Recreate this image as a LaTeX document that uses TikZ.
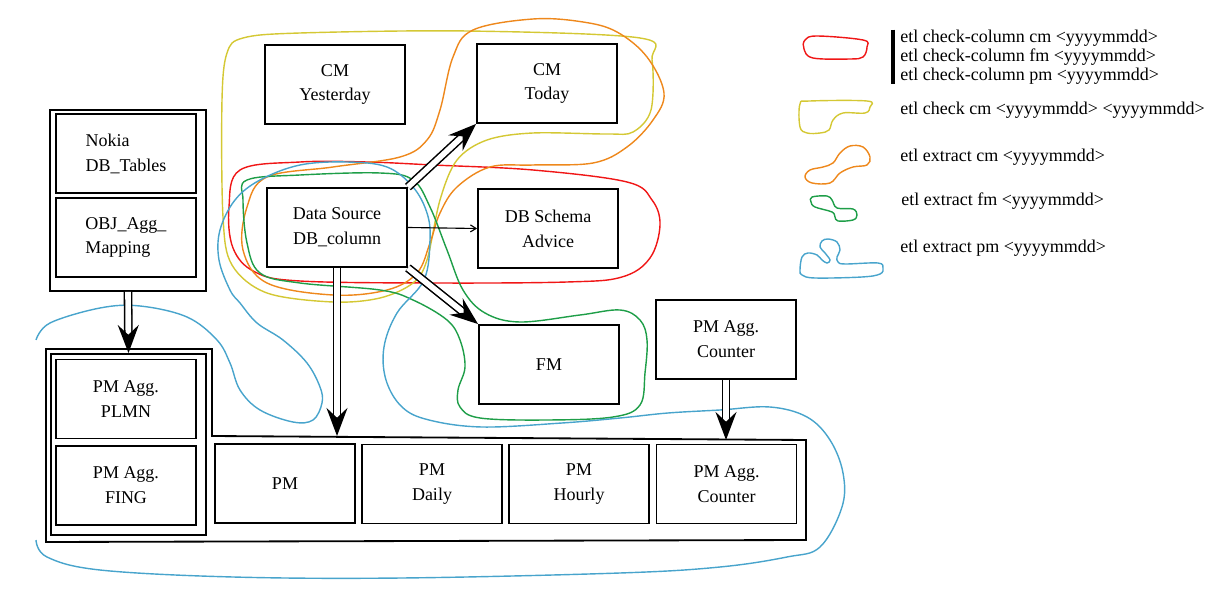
\documentclass[tikz,border=0pt]{standalone}
\usepackage{fontspec}
\setmainfont{Liberation Serif}
\usetikzlibrary{arrows.meta}
\definecolor{cred}{RGB}{240,22,22}
\definecolor{cyellow}{RGB}{212,200,52}
\definecolor{corange}{RGB}{238,136,28}
\definecolor{cgreen}{RGB}{30,158,72}
\definecolor{cblue}{RGB}{72,164,204}
\begin{document}
\begin{tikzpicture}[x=0.025cm, y=-0.025cm,
    box/.style={draw, line width=1.3pt, minimum width=3.5cm, minimum height=1.975cm,
                align=center, inner sep=0pt, font=\fontsize{12.8}{17.7}\selectfont},
    frame/.style={draw, line width=1.3pt, minimum width=3.9cm, minimum height=4.525cm, inner sep=0pt},
    dbl/.style={double, double distance=4pt, line width=1.1pt,
                -{Stealth[length=20pt,width=15pt,inset=7pt]}},
    blob/.style={line width=1pt},
    legend/.style={anchor=west, inner sep=0pt, align=left, font=\fontsize{12.8}{13.5}\selectfont}]

    \useasboundingbox (0,0) rectangle (1210,596);

    % groups
    \draw[blob, cred] plot[smooth cycle, tension=0.6] coordinates {
        (240,170) (300,162) (367,162) (433,165) (533,170) (627,182) (652,200) (660,225)
        (650,258) (622,277) (567,282) (433,283) (300,281) (255,272) (233,248) (229,207)};
    \draw[blob, cyellow] plot[smooth cycle, tension=0.55] coordinates {
        (243,38) (300,33) (467,31) (640,38) (652,60) (651,110) (633,132) (607,134)
        (533,133) (487,140) (457,160) (440,200) (427,260) (413,283) (380,298) (333,302)
        (267,293) (232,265) (223,217) (222,100) (227,53)};
    \draw[blob, corange] plot[smooth cycle, tension=0.6] coordinates {
        (533,19) (473,30) (453,57) (440,110) (427,140) (400,157) (333,167) (267,177)
        (247,207) (243,250) (267,283) (333,295) (387,290) (417,273) (430,243) (440,213)
        (457,187) (490,167) (533,165) (593,163) (627,147) (653,120) (664,93) (647,57)
        (617,32) (583,22)};
    \draw[blob, cgreen] plot[smooth cycle, tension=0.6] coordinates {
        (247,180) (300,175) (380,173) (413,180) (430,207) (447,250) (463,290) (485,313)
        (520,322) (580,315) (620,310) (640,320) (647,340) (645,373) (640,405) (613,417)
        (547,420) (480,418) (460,407) (458,390) (465,367) (460,340) (447,320) (413,300)
        (380,290) (300,283) (260,273) (247,243) (243,200)};
    \draw[blob, cblue] plot[smooth, tension=0.6] coordinates {
        (36,340) (50,323) (100,308) (140,306) (187,317) (217,340) (230,363) (240,390)
        (260,410) (293,422) (313,420) (322,403) (320,387) (307,363) (283,340) (257,323)
        (240,303) (230,290) (219,260) (220,230) (235,200) (260,180) (300,165) (347,162)
        (387,167) (413,187) (427,213) (430,240) (424,280) (397,313) (384,347) (386,380)
        (402,407) (429,420) (482,427) (562,423) (620,418) (668,413) (720,410) (770,407)
        (807,417) (830,440) (843,473) (842,507) (820,547) (787,557) (720,567) (620,573)
        (402,578) (233,577) (100,570) (47,557) (36,540)};

    % top part
    \node[box] (cmy) at (335,84.5) {CM\\Yesterday};
    \node[box] (cmt) at (547,83.5) {CM\\Today};
    \node[box] (ds) at (337,227.5) {Data Source\\DB\_column};
    \node[box] (dbs) at (548,228.5) {DB Schema\\Advice};
    \node[box] (fm) at (549,364.5) {FM};
    \node[box] (aggt) at (726,339.5) {PM Agg.\\Counter};

    % Nokia tables
    \node[frame] (nokia) at (128,200.5) {};
    \node[box, align=left] (dbt) at (126,153.5) {Nokia\\DB\_Tables};
    \node[box, align=left] (objagg) at (126,237.5) {OBJ\_Agg\_\\Mapping};

    % PM tables
    \draw[line width=1.3pt] (46,349) -- (212,349) -- (212,436) -- (806,440)
        -- (806,540) -- (46,542) -- cycle;
    \node[frame, minimum width=3.875cm] (agggrp) at (128.5,444.5) {};
    \node[box] (plmn) at (126,399) {PM Agg.\\PLMN};
    \node[box] (fing) at (126,485.5) {PM Agg.\\FING};
    \node[box] (pm) at (285,483.5) {PM};
    \node[box] (pmd) at (432,484) {PM\\Daily};
    \node[box] (pmh) at (579,484) {PM\\Hourly};
    \node[box] (aggb) at (726.5,484) {PM Agg.\\Counter};
    \coordinate (pmin) at (337,436);
    \coordinate (aggin) at (726,440);

    % arrows
    \draw[dbl] (nokia.south) -- (agggrp.north);
    \draw[dbl] (ds.south) -- (pmin);
    \draw[dbl] (ds.north east) -- (cmt.south west);
    \draw[dbl] (ds.south east) -- (fm.north west);
    \draw[dbl] (aggt.south) -- (aggin);
    \draw[line width=0.8pt, -{Straight Barb[length=4pt,width=5pt]}] (ds.east) -- (dbs.west);

    % legend
    \node[legend] (chkcol) at (900,57) {etl check-column cm <yyyymmdd>\\etl check-column fm <yyyymmdd>\\etl check-column pm <yyyymmdd>};
    \draw[line width=2.2pt] ([xshift=-0.175cm]chkcol.north west) -- ([xshift=-0.175cm]chkcol.south west);
    \node[legend] (chkcm) at (900,110) {etl check cm <yyyymmdd> <yyyymmdd>};
    \node[legend] (excm) at (900,157) {etl extract cm <yyyymmdd>};
    \node[legend] (exfm) at (901,201) {etl extract fm <yyyymmdd>};
    \node[legend] (expm) at (900,248) {etl extract pm <yyyymmdd>};

    \draw[blob, cred] plot[smooth cycle, tension=0.6] coordinates {
        (805,40) (817,36) (863,40) (867,47) (863,57) (850,59) (813,58) (804,49)};
    \draw[blob, cyellow] plot[smooth cycle, tension=0.6] coordinates {
        (800,104) (810,101) (867,101) (870,107) (865,113) (843,113) (833,120) (829,130)
        (820,133) (807,133) (800,127)};
    \draw[blob, corange] plot[smooth cycle, tension=0.6] coordinates {
        (870,157) (863,147) (850,146) (840,153) (833,163) (823,167) (810,170) (805,177)
        (812,183) (830,183) (840,173) (853,167) (867,165)};
    \draw[blob, cgreen] plot[smooth cycle, tension=0.6] coordinates {
        (812,197) (827,196) (832,200) (837,208) (853,209) (857,215) (853,220) (838,221)
        (835,217) (832,212) (815,207) (811,202)};
    \draw[blob, cblue] plot[smooth cycle, tension=0.6] coordinates {
        (800,270) (802,257) (808,253) (817,255) (822,260) (827,263) (830,260) (825,253)
        (820,247) (822,241) (828,239) (837,242) (840,250) (837,257) (838,262) (845,264)
        (878,263) (883,268) (880,274) (862,277) (815,278) (802,275)};
\end{tikzpicture}
\end{document}
